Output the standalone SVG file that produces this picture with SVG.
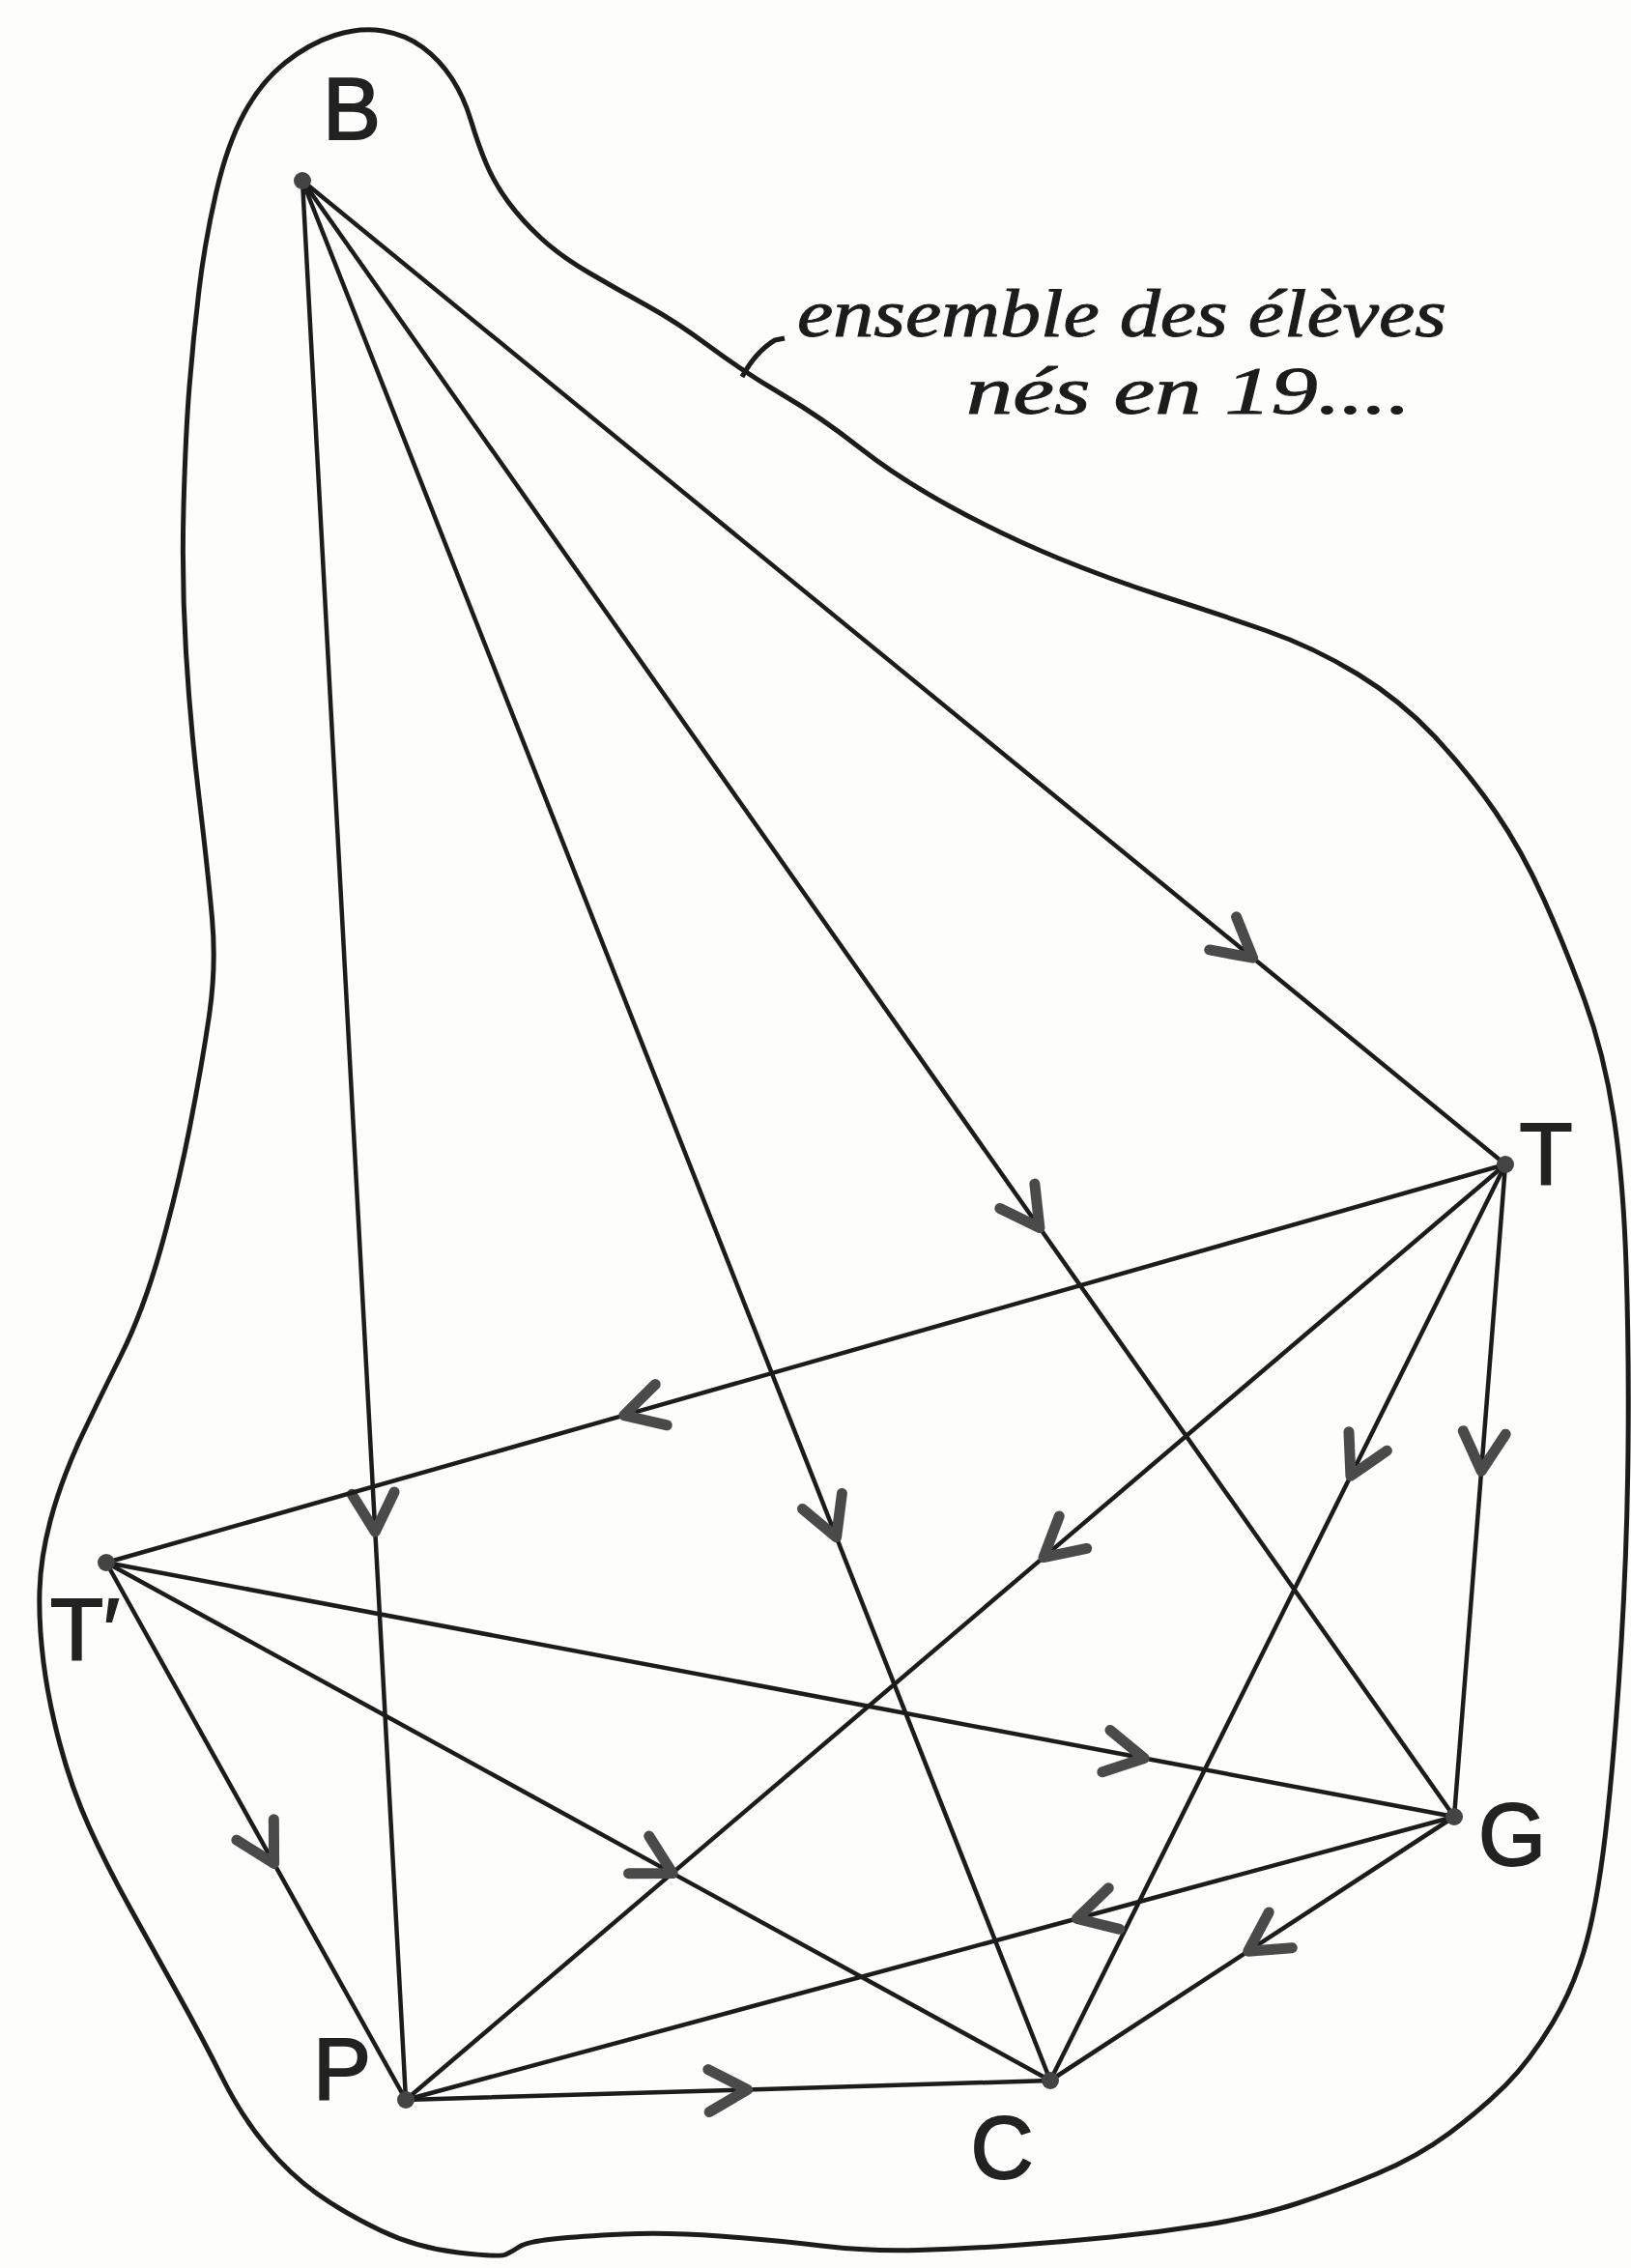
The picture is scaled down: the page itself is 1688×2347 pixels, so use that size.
<svg xmlns="http://www.w3.org/2000/svg" width="1688" height="2347" viewBox="0 0 1688 2347">
<style>
.edge{fill:none;stroke:#1c1c1c;stroke-width:4.5;stroke-linecap:round;marker-mid:url(#ah)}
.dot{fill:#444}
.lbl{font-family:"Liberation Sans","DejaVu Sans",sans-serif;font-size:90px;fill:#222;text-anchor:middle;stroke:#222;stroke-width:2}
.cap{font-family:"Liberation Serif","DejaVu Serif",serif;font-style:italic;font-size:70px;fill:#1c1c1c;stroke:#1c1c1c;stroke-width:1}
.outline{fill:none;stroke:#1c1c1c;stroke-width:5;stroke-linejoin:round}
</style>
<defs>
<marker id="ah" markerUnits="userSpaceOnUse" markerWidth="90" markerHeight="90" refX="0" refY="0" orient="auto" overflow="visible">
<path d="M-40,-22 L0,0 L-40,22" fill="none" stroke="#4a4a4a" stroke-width="11" stroke-linecap="round" stroke-linejoin="round"/>
</marker>
</defs>
<rect width="1688" height="2347" fill="#fdfdfb"/>
<g id="outline">
<path class="outline" d="M346.5,36.5 Q373,28 396.5,32 Q420,36 437.5,49 Q455,62 467.5,81 Q480,100 487.5,125 Q495,150 503.5,170 Q512,190 526,209 Q540,228 560,246.5 Q580,265 610,282.5 Q640,300 670,316.5 Q700,333 735,359 Q770,385 810,408.5 Q850,432 890,463.5 Q930,495 985,525 Q1040,555 1095,577.5 Q1150,600 1205,617.5 Q1260,635 1310,652.5 Q1360,670 1405,697.5 Q1450,725 1485,762.5 Q1520,800 1547.5,840 Q1575,880 1597.5,930 Q1620,980 1640,1035 Q1660,1090 1670,1155 Q1680,1220 1683,1310 Q1686,1400 1685,1500 Q1684,1600 1678,1700 Q1672,1800 1663.5,1880 Q1655,1960 1642.5,2007.5 Q1630,2055 1606.5,2094 Q1583,2133 1558,2158 Q1533,2183 1500,2207.5 Q1467,2232 1425,2249.5 Q1383,2267 1341.5,2280.5 Q1300,2294 1250,2302 Q1200,2310 1150,2315 Q1100,2320 1050,2323.5 Q1000,2327 950,2328.5 Q900,2330 850,2324 Q800,2318 745,2314 Q690,2310 645,2312 Q600,2314 572.5,2317 Q545,2320 537.5,2325 Q530,2330 523.5,2333 Q517,2336 474,2331 Q431,2326 393.5,2308 Q356,2290 328,2270 Q300,2250 275,2220 Q250,2190 230,2150 Q210,2110 185,2065 Q160,2020 135,1975 Q110,1930 92,1890 Q74,1850 62,1805 Q50,1760 45,1720 Q40,1680 41,1646 Q42,1612 52,1574 Q62,1536 81.5,1492.5 Q102,1449 125,1403 Q148,1357 166,1293.5 Q184,1230 196.5,1166 Q209,1102 216.5,1051 Q224,1000 219.5,950 Q215,900 206,825 Q197,750 192.5,675 Q188,600 190,525 Q192,450 196,400 Q200,350 206,300 Q212,250 223.5,200 Q235,150 252.5,117.5 Q270,85 295,65 Q320,45 346.5,36.5 Z"/>
<path class="outline" d="M768,390 Q782,364 802,352 L812,350" stroke-width="4"/>
<text class="cap" x="825" y="348" textLength="672" lengthAdjust="spacingAndGlyphs">ensemble des élèves</text>
<text class="cap" x="1000" y="428" textLength="460" lengthAdjust="spacingAndGlyphs">nés en 19....</text>
</g>
<g id="connectors">
<path class="edge" d="M313,187 L1296.6,991.2 L1558,1205"/>
<path class="edge" d="M313,187 L388.3,1585.1 L420,2173"/>
<path class="edge" d="M313,187 L865.6,1590.7 L1087,2153"/>
<path class="edge" d="M313,187 L1075.9,1270.5 L1505,1880"/>
<path class="edge" d="M1558,1205 L645.8,1464.6 L110,1617"/>
<path class="edge" d="M1558,1205 L1080,1611.6 L420,2173"/>
<path class="edge" d="M1558,1205 L1397.9,1527.3 L1087,2153"/>
<path class="edge" d="M1558,1205 L1533.1,1522.3 L1505,1880"/>
<path class="edge" d="M110,1617 L1184.2,1819.5 L1505,1880"/>
<path class="edge" d="M110,1617 L696.2,1938.6 L1087,2153"/>
<path class="edge" d="M110,1617 L283.6,1928.4 L420,2173"/>
<path class="edge" d="M1505,1880 L1114.4,1985.5 L420,2173"/>
<path class="edge" d="M1505,1880 L1291.8,2019.2 L1087,2153"/>
<path class="edge" d="M420,2173 L773.5,2162.4 L1087,2153"/>
</g>
<g id="node-B"><circle class="dot" cx="313" cy="187" r="9"/><text class="lbl" x="364" y="144">B</text></g>
<g id="node-T"><circle class="dot" cx="1558" cy="1205" r="9"/><text class="lbl" x="1600" y="1226">T</text></g>
<g id="node-Tp"><circle class="dot" cx="110" cy="1617" r="9"/><text class="lbl" x="88" y="1718">T′</text></g>
<g id="node-G"><circle class="dot" cx="1505" cy="1880" r="9"/><text class="lbl" x="1565" y="1930">G</text></g>
<g id="node-P"><circle class="dot" cx="420" cy="2173" r="9"/><text class="lbl" x="354" y="2172">P</text></g>
<g id="node-C"><circle class="dot" cx="1087" cy="2153" r="9"/><text class="lbl" x="1037" y="2254">C</text></g>
</svg>
